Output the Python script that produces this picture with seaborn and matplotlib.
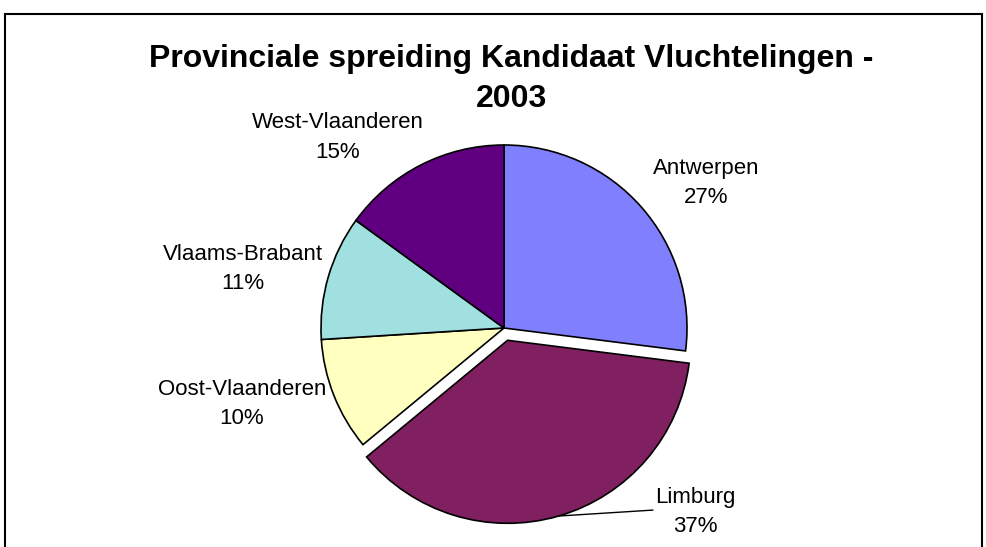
import numpy as np
import seaborn as sns
import matplotlib

matplotlib.use("Agg")
import matplotlib.pyplot as plt
from matplotlib.patches import Rectangle

provinces = ["Antwerpen", "Limburg", "Oost-Vlaanderen", "Vlaams-Brabant", "West-Vlaanderen"]
shares = [27, 37, 10, 11, 15]
slice_colors = ["#8080FF", "#802060", "#FFFFC0", "#A0E0E0", "#600080"]
title = "Provinciale spreiding Kandidaat Vluchtelingen -\n2003"

# label placement (pie units, radius = 1)
label_pos = {
    "Antwerpen": (1.104, 0.792),
    "Limburg": (1.044, -1.005),
    "Oost-Vlaanderen": (-1.432, -0.415),
    "Vlaams-Brabant": (-1.426, 0.322),
    "West-Vlaanderen": (-0.907, 1.04),
}

sns.set_theme(style="white")
plt.rcParams["font.family"] = ["Liberation Sans", "DejaVu Sans"]

fig = plt.figure(figsize=(9.87, 5.47), dpi=100)
fig.patch.set_facecolor("white")

# outer chart frame (bottom edge runs off the picture)
fig.patches.append(
    Rectangle((5 / 987, -0.05), 977 / 987, 1.05 - 14 / 547, transform=fig.transFigure,
              fill=False, edgecolor="black", linewidth=1.5)
)

fig.text(0.518, 1 - 79 / 547, title, ha="center", va="center", fontsize=23,
         fontweight="bold", linespacing=1.42, color="black")

ax = fig.add_axes([(504 - 183) / 987, 36 / 547, 366 / 987, 366 / 547])
explode = [0.07 if p == "Limburg" else 0 for p in provinces]
wedges, _ = ax.pie(
    shares,
    colors=slice_colors,
    startangle=90,
    counterclock=False,
    explode=explode,
    wedgeprops={"edgecolor": "black", "linewidth": 1.2},
)
ax.set_xlim(-1, 1)
ax.set_ylim(-1, 1)
ax.axis("off")

total = sum(shares)
for w, name, val in zip(wedges, provinces, shares):
    w.set_clip_on(False)
    lx, ly = label_pos[name]
    ax.text(lx, ly, f"{name}\n{val / total:.0%}", ha="center", va="center",
            fontsize=16, linespacing=1.55, color="black", clip_on=False)
    if name == "Limburg":
        mid = np.deg2rad((w.theta1 + w.theta2) / 2)
        cx, cy = w.center
        ex, ey = cx + w.r * np.cos(mid), cy + w.r * np.sin(mid)
        ax.plot([ex, lx - 0.23], [ey, ly + 0.01], color="black", lw=1, clip_on=False)

fig.savefig("out.png", dpi=100)
